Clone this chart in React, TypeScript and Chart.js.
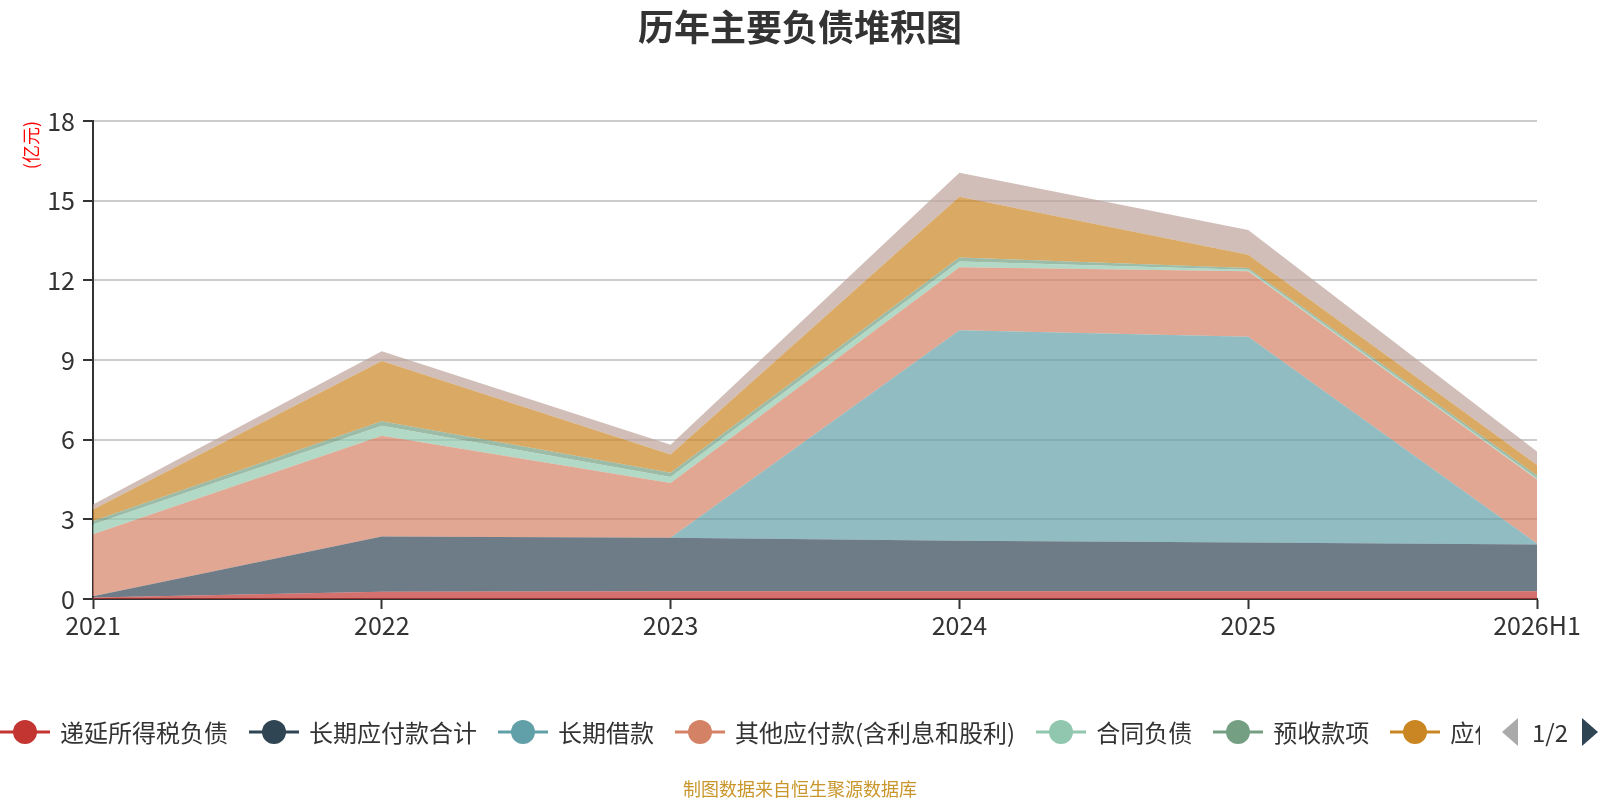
import React, { useEffect, useRef } from 'react';
import { Chart, registerables } from 'chart.js';

Chart.register(...registerables);

const years = ['2021', '2022', '2023', '2024', '2025', '2026H1'];

// 亿元, values stacked bottom to top
const deferredTax = [0.06, 0.27, 0.29, 0.29, 0.29, 0.29];
const longTermPayables = [0.04, 2.08, 2.02, 1.9, 1.84, 1.76];
const longTermLoans = [0, 0, 0, 7.93, 7.75, 0.04];
const otherPayables = [2.34, 3.8, 2.06, 2.37, 2.46, 2.41];
const contractLiabilities = [0.37, 0.37, 0.22, 0.22, 0.06, 0.05];
const advanceReceipts = [0.13, 0.17, 0.16, 0.15, 0.06, 0.1];
const accountsPayable = [0.43, 2.27, 0.69, 2.29, 0.5, 0.4];
const taxesPayable = [0.19, 0.37, 0.37, 0.9, 0.94, 0.5];

const yTicks = [0, 3, 6, 9, 12, 15, 18];

const series = [
  { name: '递延所得税负债', color: '#c23531', data: deferredTax },
  { name: '长期应付款合计', color: '#2f4554', data: longTermPayables },
  { name: '长期借款', color: '#61a0a8', data: longTermLoans },
  { name: '其他应付款(含利息和股利)', color: '#d48265', data: otherPayables },
  { name: '合同负债', color: '#91c7ae', data: contractLiabilities },
  { name: '预收款项', color: '#749f83', data: advanceReceipts },
  { name: '应付账款', color: '#ca8622', data: accountsPayable },
  { name: '应交税费', color: '#bda29a', data: taxesPayable },
];

const FONT = '"Noto Sans CJK SC", "Noto Sans", sans-serif';

const hexA = (hex: string, a: number) => {
  const n = parseInt(hex.slice(1), 16);
  return `rgba(${(n >> 16) & 255}, ${(n >> 8) & 255}, ${n & 255}, ${a})`;
};

const Legend = () => (
  <div
    style={{
      position: 'absolute',
      left: 0,
      top: 716,
      width: 1480,
      height: 32,
      overflow: 'hidden',
      whiteSpace: 'nowrap',
      display: 'flex',
      alignItems: 'center',
    }}
  >
    {series.slice(0, 7).map(s => (
      <div key={s.name} style={{ display: 'flex', alignItems: 'center', marginRight: 21, flexShrink: 0 }}>
        <svg width={50} height={28}>
          <line x1={0} y1={14} x2={50} y2={14} stroke={s.color} strokeWidth={3} />
          <circle cx={25} cy={14} r={12} fill={s.color} />
        </svg>
        <span style={{ marginLeft: 10, fontSize: 24, color: '#333', fontFamily: FONT, lineHeight: '28px' }}>
          {s.name}
        </span>
      </div>
    ))}
  </div>
);

const Pager = () => (
  <div style={{ position: 'absolute', left: 1500, top: 716, height: 32, display: 'flex', alignItems: 'center' }}>
    <svg width={20} height={30}>
      <polygon points="18,1 18,29 2,15" fill="#aaa" />
    </svg>
    <span style={{ marginLeft: 12, fontSize: 24, color: '#333', fontFamily: FONT, lineHeight: '28px' }}>1/2</span>
    <svg width={20} height={30} style={{ marginLeft: 12 }}>
      <polygon points="2,1 2,29 18,15" fill="#2f4554" />
    </svg>
  </div>
);

const App = () => {
  const canvasRef = useRef<HTMLCanvasElement | null>(null);

  useEffect(() => {
    const ctx = canvasRef.current?.getContext('2d') as any;
    const chart = new Chart(ctx, {
      type: 'line',
      data: {
        labels: years,
        datasets: series.map((s, i) => ({
          label: s.name,
          data: s.data,
          backgroundColor: hexA(s.color, 0.7),
          borderColor: hexA(s.color, 0.7),
          borderWidth: 0,
          pointRadius: 0,
          fill: i === 0 ? 'origin' : '-1',
          tension: 0,
        })),
      },
      options: {
        responsive: false,
        animation: false,
        events: [],
        layout: { padding: { left: 0, right: 63, top: 121, bottom: 141 } },
        plugins: {
          legend: { display: false },
          tooltip: { enabled: false },
        },
        scales: {
          x: {
            offset: false,
            grid: { display: true, drawOnChartArea: false, drawTicks: true, tickLength: 10, tickColor: '#333', tickWidth: 2 },
            border: { color: '#333', width: 2 },
            ticks: { color: '#333', font: { family: FONT, size: 25 }, padding: 1, maxRotation: 0, autoSkip: false },
            afterFit: (scale: any) => {
              scale.height = 60;
            },
          },
          y: {
            stacked: true,
            min: 0,
            max: 18,
            afterBuildTicks: (scale: any) => {
              scale.ticks = yTicks.map(v => ({ value: v }));
            },
            grid: { color: '#ccc', lineWidth: 2, tickLength: 10, tickColor: '#333', tickWidth: 2 },
            border: { color: '#333', width: 2 },
            ticks: { color: '#333', font: { family: FONT, size: 25 }, padding: 8 },
            title: {
              display: true,
              text: '(亿元)',
              color: '#ff0000',
              align: 'end',
              font: { family: FONT, size: 18 },
              padding: { top: 20, bottom: 0 },
            },
            afterFit: (scale: any) => {
              scale.width = 93;
            },
          },
        },
      },
    } as any);

    return () => {
      chart.destroy();
    };
  }, [canvasRef]);

  return (
    <div style={{ position: 'absolute', left: 0, top: 0, width: 1600, height: 800, background: '#fff' }}>
      <canvas ref={canvasRef} width={1600} height={800} style={{ width: 1600, height: 800 }} />
      <div
        style={{
          position: 'absolute',
          left: 0,
          top: 4,
          width: 1600,
          textAlign: 'center',
          fontSize: 36,
          fontWeight: 'bold',
          lineHeight: '43px',
          color: '#333',
          fontFamily: FONT,
        }}
      >
        历年主要负债堆积图
      </div>
      <Legend />
      <Pager />
      <div
        style={{
          position: 'absolute',
          left: 0,
          top: 776,
          width: 1600,
          textAlign: 'center',
          fontSize: 18,
          lineHeight: '24px',
          color: '#c9962b',
          fontFamily: FONT,
        }}
      >
        制图数据来自恒生聚源数据库
      </div>
    </div>
  );
};

export default App;
